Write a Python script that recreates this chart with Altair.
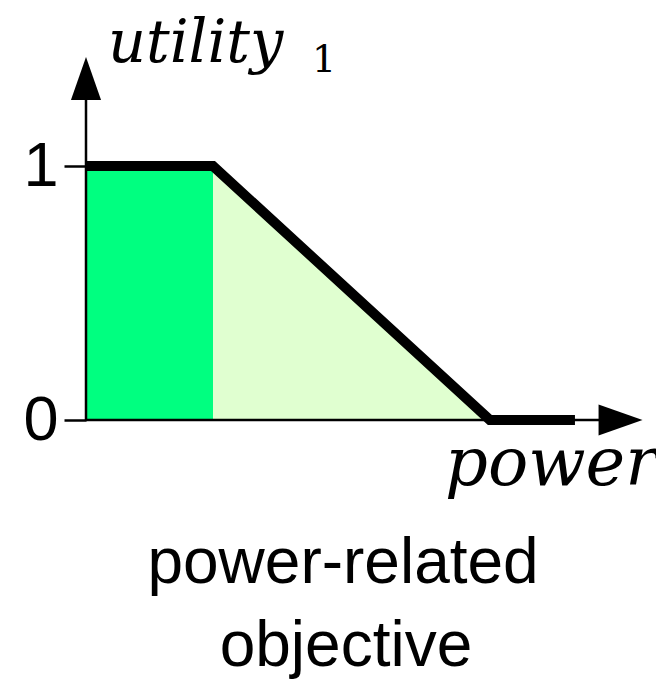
import altair as alt
import pandas as pd

# utility curve (power, utility)
curve_x = [0.0, 1.0, 3.18, 3.85]
curve_y = [1.0, 1.0, 0.0, 0.0]

# shaded regions under the curve
fill_x = [0.0, 1.0, 1.0, 3.18]
fill_y = [1.0, 1.0, 1.0, 0.0]
fill_region = ["flat", "flat", "falling", "falling"]
region_names = ["flat", "falling"]
region_colors = ["#00FF80", "#E0FFD0"]

# axis extents and arrow heads
y_axis_top = 1.30
x_axis_end = 4.10
arrow_y_pos = 1.344
arrow_x_pos = 4.209

# y ticks
y_ticks = [0, 1]

# annotation texts
t_util = ["utility"]
t_util_x = [0.173]
t_util_y = [1.409]
t_sub = ["1"]
t_sub_x = [1.78]
t_sub_y = [1.37]
t_pow = ["power"]
t_pow_x = [2.827]
t_pow_y = [-0.256]
t_cap = ["power-related", "objective"]
t_cap_x = [2.024, 2.047]
t_cap_y = [-0.642, -0.968]

xs = alt.Scale(domain=[0, 570 / 127], nice=False, zero=False)
ys = alt.Scale(domain=[0, 412 / 254], nice=False, zero=False)

curve = pd.DataFrame({"x": curve_x, "y": curve_y, "i": range(len(curve_x))})
fills = pd.DataFrame({"x": fill_x, "y": fill_y, "region": fill_region})

area = alt.Chart(fills).mark_area(opacity=1, strokeWidth=0).encode(
    x=alt.X("x:Q", scale=xs, axis=None),
    y=alt.Y("y:Q", scale=ys, axis=alt.Axis(
        values=y_ticks, format="d", title=None, domain=False, grid=False,
        tickSize=22, tickWidth=2.5, tickColor="black",
        labelFont="Liberation Sans", labelFontSize=63, labelColor="black",
        labelPadding=6)),
    y2=alt.datum(0),
    color=alt.Color("region:N", scale=alt.Scale(domain=region_names, range=region_colors), legend=None),
)

yaxis_df = pd.DataFrame({"x": [0.0], "y": [0.0], "y2": [y_axis_top]})
yaxis = alt.Chart(yaxis_df).mark_rule(color="black", strokeWidth=2.5).encode(
    x=alt.X("x:Q", scale=xs), y=alt.Y("y:Q", scale=ys), y2="y2:Q")

xaxis_df = pd.DataFrame({"x": [0.0], "x2": [x_axis_end], "y": [0.0]})
xaxis = alt.Chart(xaxis_df).mark_rule(color="black", strokeWidth=2.5).encode(
    x=alt.X("x:Q", scale=xs), x2="x2:Q", y=alt.Y("y:Q", scale=ys))

line = alt.Chart(curve).mark_line(color="black", strokeWidth=10, strokeCap="butt", strokeJoin="miter").encode(
    x=alt.X("x:Q", scale=xs), y=alt.Y("y:Q", scale=ys), order="i:Q")

arr_up = alt.Chart(pd.DataFrame({"x": [0.0], "y": [arrow_y_pos]})).mark_point(
    shape="M-0.7,1L0.7,1L0,-1Z", size=1849, filled=True, color="black", opacity=1, strokeWidth=0).encode(
    x=alt.X("x:Q", scale=xs), y=alt.Y("y:Q", scale=ys))
arr_right = alt.Chart(pd.DataFrame({"x": [arrow_x_pos], "y": [0.0]})).mark_point(
    shape="M-1,-0.7L1,0L-1,0.7Z", size=1936, filled=True, color="black", opacity=1, strokeWidth=0).encode(
    x=alt.X("x:Q", scale=xs), y=alt.Y("y:Q", scale=ys))


def text_layer(texts, tx, ty, font, size, style, align):
    df = pd.DataFrame({"t": texts, "x": tx, "y": ty})
    return alt.Chart(df).mark_text(font=font, fontSize=size, fontStyle=style, align=align,
                                   baseline="alphabetic", color="black").encode(
        x=alt.X("x:Q", scale=xs), y=alt.Y("y:Q", scale=ys), text="t:N")


util = text_layer(t_util, t_util_x, t_util_y, "DejaVu Serif", 59, "italic", "left")
sub = text_layer(t_sub, t_sub_x, t_sub_y, "DejaVu Serif", 38, "normal", "left")
powr = text_layer(t_pow, t_pow_x, t_pow_y, "DejaVu Serif", 67, "italic", "left")
cap = text_layer(t_cap, t_cap_x, t_cap_y, "Liberation Sans", 64, "normal", "center")

chart = alt.layer(area, yaxis, xaxis, line, arr_up, arr_right, util, sub, powr, cap).properties(
    width=570, height=412,
    autosize=alt.AutoSizeParams(type="none"),
    padding={"left": 78, "top": 0, "right": 0, "bottom": 260},
).configure_view(stroke=None)

chart.save("out.html", embed_options={"renderer": "svg", "actions": False})
